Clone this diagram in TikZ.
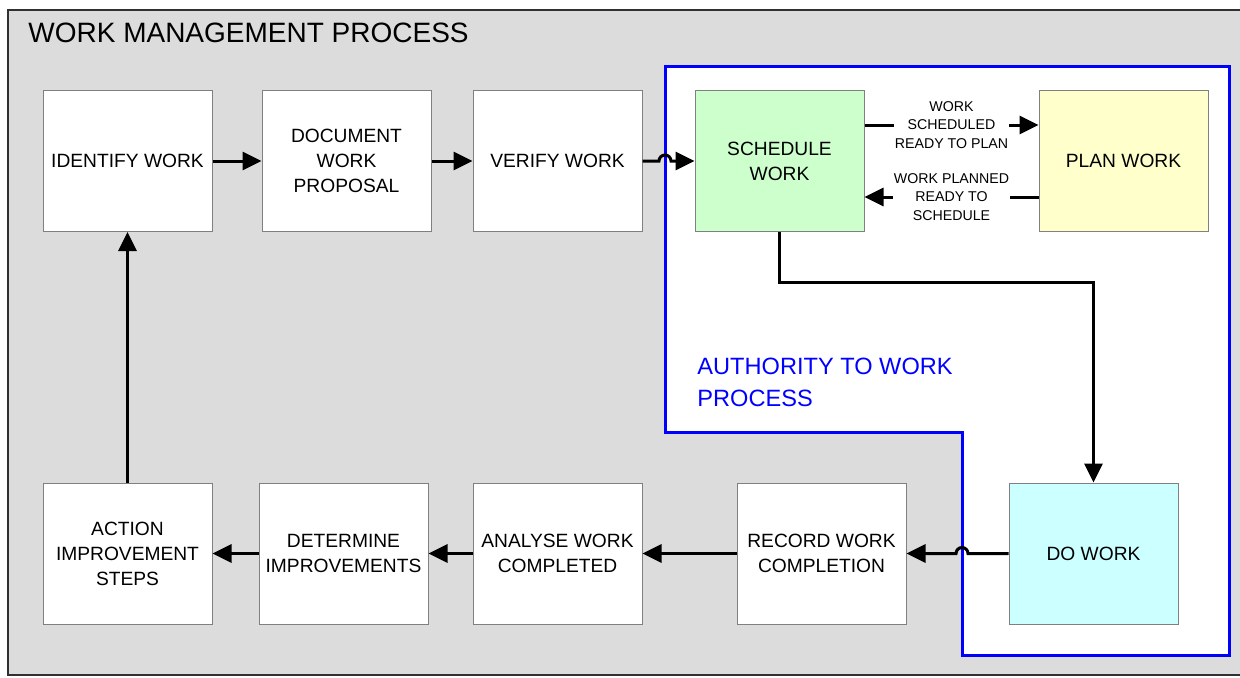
\documentclass[tikz,border=0pt]{standalone}
\usepackage{fontspec}
\setmainfont{Liberation Sans}
\usetikzlibrary{positioning,arrows.meta}
\definecolor{cback}{HTML}{DCDCDC}
\definecolor{cedge}{HTML}{808080}
\definecolor{cframe}{HTML}{303030}
\definecolor{cblue}{HTML}{0000FF}
\definecolor{cgreen}{HTML}{CCFFCC}
\definecolor{cyellow}{HTML}{FFFFCC}
\definecolor{ccyan}{HTML}{CCFFFF}

\begin{document}
\begin{tikzpicture}[x=0.5pt,y=-0.5pt,
  box/.style={draw=cedge, line width=0.5pt, fill=white, minimum width=84.5pt,
    minimum height=70.5pt, align=center, inner sep=1pt,
    font=\fontsize{9.6}{12.5}\selectfont},
  arr/.style={-{Triangle[length=9.5pt,width=9pt]}, line width=1.5pt},
  albl/.style={fill=white, inner sep=0.5pt, align=center,
    font=\fontsize{7.1}{9.2}\selectfont}]

\useasboundingbox (0,0) rectangle (1240,677);
\clip (0,0) rectangle (1240,677);
\fill[white] (0,0) rectangle (1240,677);
\draw[cframe, fill=cback, line width=1pt] (8,10) rectangle (1260,675);
\node[anchor=north west, inner sep=0pt, font=\fontsize{14}{16}\selectfont]
  (title) at (28,23) {WORK MANAGEMENT PROCESS};

% authority to work area
\draw[cblue, fill=white, line width=1.5pt] (665,66) -- (1229,66) -- (1229,655)
  -- (962,655) -- (962,432) -- (665,432) -- cycle;
\node[anchor=north west, inner sep=0pt, align=left, text=cblue,
  font=\fontsize{11.8}{16}\selectfont] (atw) at (697,358)
  {AUTHORITY TO WORK\\PROCESS};

% top row
\node[box] (identify) at (127.5,161) {IDENTIFY WORK};
\node[box] (document) at (346.5,161) {DOCUMENT\\WORK\\PROPOSAL};
\node[box] (verify) at (557.5,161) {VERIFY WORK};
\node[box, fill=cgreen] (schedule) at (779.5,161) {SCHEDULE\\WORK};
\node[box, fill=cyellow] (plan) at (1123.5,161) {PLAN WORK};

% bottom row
\node[box] (action) at (127.5,553.5) {ACTION\\IMPROVEMENT\\STEPS};
\node[box] (determine) at (343.5,553.5) {DETERMINE\\IMPROVEMENTS};
\node[box] (analyse) at (557.5,553.5) {ANALYSE WORK\\COMPLETED};
\node[box] (record) at (821.5,553.5) {RECORD WORK\\COMPLETION};
\node[box, fill=ccyan] (dowork) at (1093.5,553.5) {DO WORK};

% line hops over the blue border
\coordinate (hopA) at (665,161);
\coordinate (hopB) at (962,553.5);

\draw[arr] (identify.east) -- (document.west);
\draw[arr] (document.east) -- (verify.west);
\draw[arr] (verify.east) -- ([xshift=-3pt]hopA)
  arc[start angle=180, end angle=0, radius=3pt] -- (schedule.west);
\draw[arr] ([yshift=18pt]schedule.east) --
  node[albl]{WORK\\SCHEDULED\\READY TO PLAN} ([yshift=18pt]plan.west);
\draw[arr] ([yshift=-18pt]plan.west) --
  node[albl]{WORK PLANNED\\READY TO\\SCHEDULE} ([yshift=-18pt]schedule.east);
\draw[arr] (schedule.south) -- ++(0,50) -| (dowork.north);
\draw[arr] (dowork.west) -- ([xshift=3pt]hopB)
  arc[start angle=0, end angle=180, radius=3pt] -- (record.east);
\draw[arr] (record.west) -- (analyse.east);
\draw[arr] (analyse.west) -- (determine.east);
\draw[arr] (determine.west) -- (action.east);
\draw[arr] (action.north) -- (identify.south);
\end{tikzpicture}
\end{document}
